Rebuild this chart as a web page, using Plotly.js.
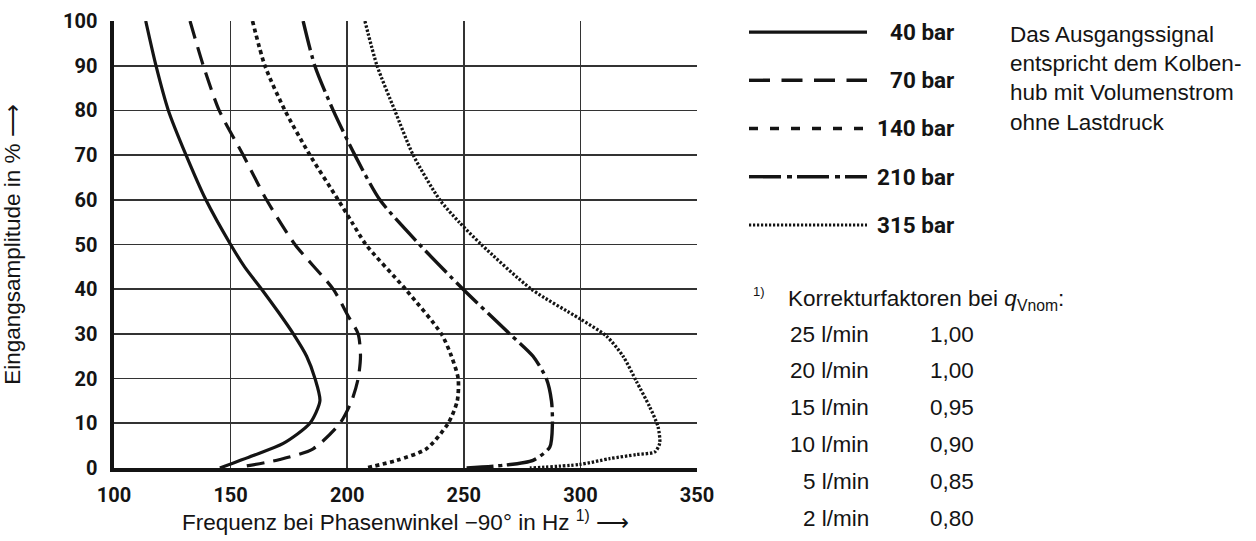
<!DOCTYPE html>
<html>
<head>
<meta charset="utf-8">
<script src="https://cdn.plot.ly/plotly-3.0.1.min.js"></script>
<style>
html,body{margin:0;padding:0;background:#fff;}
#chart{width:1256px;height:541px;}
</style>
</head>
<body>
<div id="chart"></div>
<script>
// ---- data ----
const pressures = ['40 bar', '70 bar', '140 bar', '210 bar', '315 bar'];

const amp40  = [100, 90, 80, 70, 60, 50, 45, 40, 35, 30, 25, 20, 15, 10, 5.5, 2.8, 0];
const freq40 = [113.6, 118, 123.3, 130.9, 139.4, 150, 156, 163.3, 170.3, 176.9, 182.6, 186.2, 188.3, 184, 172.6, 159.7, 145.4];

const amp70  = [100, 90, 80, 70, 60, 50, 40, 34, 30, 25, 20, 15, 10, 4.3, 1.9, 0.3];
const freq70 = [132.6, 138.3, 145.1, 155.4, 165.4, 177.6, 194, 200.4, 204.7, 205.7, 204.7, 201.9, 196.9, 185.4, 171.1, 155];

const amp140  = [100, 90, 80, 70, 60, 55, 50, 40, 30, 25, 20, 15, 10, 4.3, 1.7, 0];
const freq140 = [159.4, 164.7, 173.3, 184, 196.1, 202, 208, 225, 240.4, 244.7, 247.6, 247.2, 243.3, 234, 221.2, 208];

const amp210  = [100, 90, 80, 70, 60, 50, 40, 30, 25, 20, 15, 10, 4.7, 1.7, 0.6, 0];
const freq210 = [181.1, 186.1, 194, 203.3, 214, 231, 249.7, 269.7, 279.7, 285.4, 287.6, 288, 286.9, 279.7, 266.9, 251.2];

const amp315  = [100, 90, 80, 70, 60, 55, 50, 40, 33.4, 29.5, 25, 19.4, 13.7, 9.2, 5.5, 3.6, 3, 2.1, 0.8, 0];
const freq315 = [207.6, 212.8, 220.4, 228.3, 239.7, 248, 257.5, 279, 299.7, 311.2, 318.3, 324, 329.7, 333.3, 334, 331.9, 324, 312.6, 299.7, 278.3];

const xTicks = [100, 150, 200, 250, 300, 350];
const yTicks = [0, 10, 20, 30, 40, 50, 60, 70, 80, 90, 100];

const noteLines = ['Das Ausgangssignal', 'entspricht dem Kolben-', 'hub mit Volumenstrom', 'ohne Lastdruck'];
const flowRates = ['25 l/min', '20 l/min', '15 l/min', '10 l/min', '5 l/min', '2 l/min'];
const corrFactors = ['1,00', '1,00', '0,95', '0,90', '0,85', '0,80'];

// ---- styles ----
const W = 1256, H = 541;
const ink = '#141414';
const boldFam = 'Roboto, "Liberation Sans", sans-serif';
const plain = '"Liberation Sans", Arial, Helvetica, sans-serif';
const styles = [
  {dash: 'solid', width: 3.2},
  {dash: '18px,9px', width: 3.2},
  {dash: '4px,3.5px', width: 3.7},
  {dash: '30px,5px,4px,5px', width: 3.4},
  {dash: '2.4px,1.8px', width: 3.3}
];
const legendDash = ['solid', '21px,11.5px', '9px,12px', '32px,6px,5px,5px', '2.2px,1.8px'];

const xs = [freq40, freq70, freq140, freq210, freq315];
const ys = [amp40, amp70, amp140, amp210, amp315];

const traces = [];
pressures.forEach((p, i) => {
  traces.push({
    x: xs[i], y: ys[i], type: 'scatter', mode: 'lines', name: p,
    line: {color: ink, width: styles[i].width, dash: styles[i].dash, shape: 'spline', smoothing: 0.7},
    hoverinfo: 'skip', showlegend: false
  });
  // legend sample drawn on a helper axis
  traces.push({
    x: [0, 1], y: [i, i], type: 'scatter', mode: 'lines', xaxis: 'x2', yaxis: 'y2',
    line: {color: ink, width: i === 4 ? 3.0 : 3.4, dash: legendDash[i]},
    hoverinfo: 'skip', showlegend: false
  });
});

const txt = 22.5;
const annotations = [];
pressures.forEach((p, i) => {
  annotations.push({
    text: p, xref: 'paper', x: 956 / W, xanchor: 'right',
    yref: 'y2', y: i, yanchor: 'middle', showarrow: false,
    font: {family: boldFam, size: 22.5, weight: 'bold', color: ink}
  });
});
noteLines.forEach((t, i) => {
  annotations.push({
    text: t, xref: 'paper', x: 1008 / W, xanchor: 'left',
    yref: 'paper', y: 1 - (34 + i * 29.5) / H, yanchor: 'middle', showarrow: false,
    font: {family: plain, size: txt, color: ink}
  });
});
annotations.push({
  text: '1)', xref: 'paper', x: 751 / W, xanchor: 'left',
  yref: 'paper', y: 1 - 291 / H, yanchor: 'middle', showarrow: false,
  font: {family: plain, size: 13, color: ink}
});
annotations.push({
  text: 'Korrekturfaktoren bei <i>q</i><sub>Vnom</sub>:', xref: 'paper', x: 786 / W, xanchor: 'left',
  yref: 'paper', y: 1 - 300 / H, yanchor: 'middle', showarrow: false,
  font: {family: plain, size: txt, color: ink}
});
flowRates.forEach((f, i) => {
  const yy = 1 - (334 + i * 36.8) / H;
  annotations.push({
    text: f, xref: 'paper', x: 871 / W, xanchor: 'right',
    yref: 'paper', y: yy, yanchor: 'middle', showarrow: false,
    font: {family: plain, size: txt, color: ink}
  });
  annotations.push({
    text: corrFactors[i], xref: 'paper', x: 928 / W, xanchor: 'left',
    yref: 'paper', y: yy, yanchor: 'middle', showarrow: false,
    font: {family: plain, size: txt, color: ink}
  });
});

const layout = {
  width: W, height: H,
  margin: {l: 0, r: 0, t: 0, b: 0, pad: 0},
  paper_bgcolor: '#fff', plot_bgcolor: '#fff',
  showlegend: false,
  xaxis: {
    domain: [114 / W, 697 / W],
    range: [100, 350], tickvals: xTicks, ticktext: xTicks.map(String),
    showgrid: true, gridcolor: '#333', gridwidth: 1.6,
    zeroline: false, showline: true, linecolor: ink, linewidth: 3.6,
    ticks: '', ticklabelstandoff: 6,
    tickfont: {family: boldFam, size: 20, weight: 'bold', color: ink},
    title: {text: 'Frequenz bei Phasenwinkel −90° in Hz <sup>1)</sup> ⟶', standoff: 9,
            font: {family: plain, size: txt, color: ink}},
    fixedrange: true
  },
  yaxis: {
    domain: [1 - 468 / H, 1 - 21 / H],
    range: [0, 100], tickvals: yTicks, ticktext: yTicks.map(String),
    showgrid: true, gridcolor: '#333', gridwidth: 1.6,
    zeroline: false, showline: true, linecolor: ink, linewidth: 3.6,
    ticks: '', ticklabelstandoff: 9,
    tickfont: {family: boldFam, size: 20, weight: 'bold', color: ink},
    title: {text: 'Eingangsamplitude in % ⟶', standoff: 38,
            font: {family: plain, size: txt, color: ink}},
    fixedrange: true
  },
  xaxis2: {domain: [749 / W, 867 / W], range: [0, 1], visible: false, fixedrange: true},
  yaxis2: {domain: [1 - 249 / H, 1 - 8 / H], range: [4.5, -0.5], visible: false, fixedrange: true},
  annotations: annotations
};

Plotly.newPlot('chart', traces, layout, {displayModeBar: false, staticPlot: true});
</script>
</body>
</html>
